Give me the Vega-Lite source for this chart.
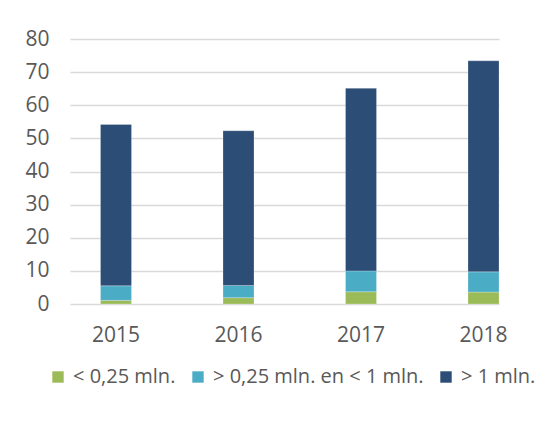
{
  "$schema": "https://vega.github.io/schema/vega-lite/v6.json",
  "width": 429,
  "height": 265,
  "autosize": {"type": "none"},
  "padding": {"left": 70, "top": 39, "right": 46, "bottom": 117},
  "background": "#ffffff",
  "data": {
    "values": [
      {"year": "2015", "cat": "< 0,25 mln.", "ord": 1, "value": 1.1},
      {"year": "2015", "cat": "> 0,25 mln. en < 1 mln.", "ord": 2, "value": 4.4},
      {"year": "2015", "cat": "> 1 mln.", "ord": 3, "value": 48.7},
      {"year": "2016", "cat": "< 0,25 mln.", "ord": 1, "value": 1.9},
      {"year": "2016", "cat": "> 0,25 mln. en < 1 mln.", "ord": 2, "value": 3.7},
      {"year": "2016", "cat": "> 1 mln.", "ord": 3, "value": 46.7},
      {"year": "2017", "cat": "< 0,25 mln.", "ord": 1, "value": 3.7},
      {"year": "2017", "cat": "> 0,25 mln. en < 1 mln.", "ord": 2, "value": 6.3},
      {"year": "2017", "cat": "> 1 mln.", "ord": 3, "value": 55.1},
      {"year": "2018", "cat": "< 0,25 mln.", "ord": 1, "value": 3.6},
      {"year": "2018", "cat": "> 0,25 mln. en < 1 mln.", "ord": 2, "value": 6.1},
      {"year": "2018", "cat": "> 1 mln.", "ord": 3, "value": 63.7}
    ]
  },
  "mark": {"type": "bar", "stroke": "#ffffff", "strokeWidth": 0.4, "strokeOpacity": 0.6},
  "encoding": {
    "x": {
      "field": "year",
      "type": "nominal",
      "scale": {"paddingInner": 0.747, "paddingOuter": 0.1245, "align": 1},
      "axis": {
        "title": null,
        "labelAngle": 0,
        "domain": false,
        "ticks": false,
        "labelPadding": 20,
        "labelFont": "Open Sans",
        "labelFontSize": 21,
        "labelColor": "#595959"
      }
    },
    "y": {
      "field": "value",
      "type": "quantitative",
      "stack": "zero",
      "scale": {"domain": [0, 80], "nice": false},
      "axis": {
        "title": null,
        "values": [0, 10, 20, 30, 40, 50, 60, 70, 80],
        "domain": false,
        "ticks": false,
        "labelPadding": 21,
        "labelFont": "Open Sans",
        "labelFontSize": 21,
        "labelColor": "#595959",
        "gridColor": "#d9d9d9",
        "gridWidth": 1.5
      }
    },
    "color": {
      "field": "cat",
      "type": "nominal",
      "scale": {
        "domain": ["< 0,25 mln.", "> 0,25 mln. en < 1 mln.", "> 1 mln."],
        "range": ["#9bbb59", "#4bacc6", "#2c4d75"]
      },
      "legend": {
        "title": null,
        "orient": "none",
        "direction": "horizontal",
        "legendX": -22,
        "legendY": 328,
        "symbolType": "square",
        "symbolSize": 130,
        "symbolStrokeWidth": 0,
        "labelFont": "Open Sans",
        "labelFontSize": 20,
        "labelColor": "#595959",
        "labelOffset": 5,
        "labelLimit": 400,
        "columnPadding": 12
      }
    },
    "order": {"field": "ord", "type": "quantitative"}
  },
  "config": {"view": {"stroke": null}}
}
